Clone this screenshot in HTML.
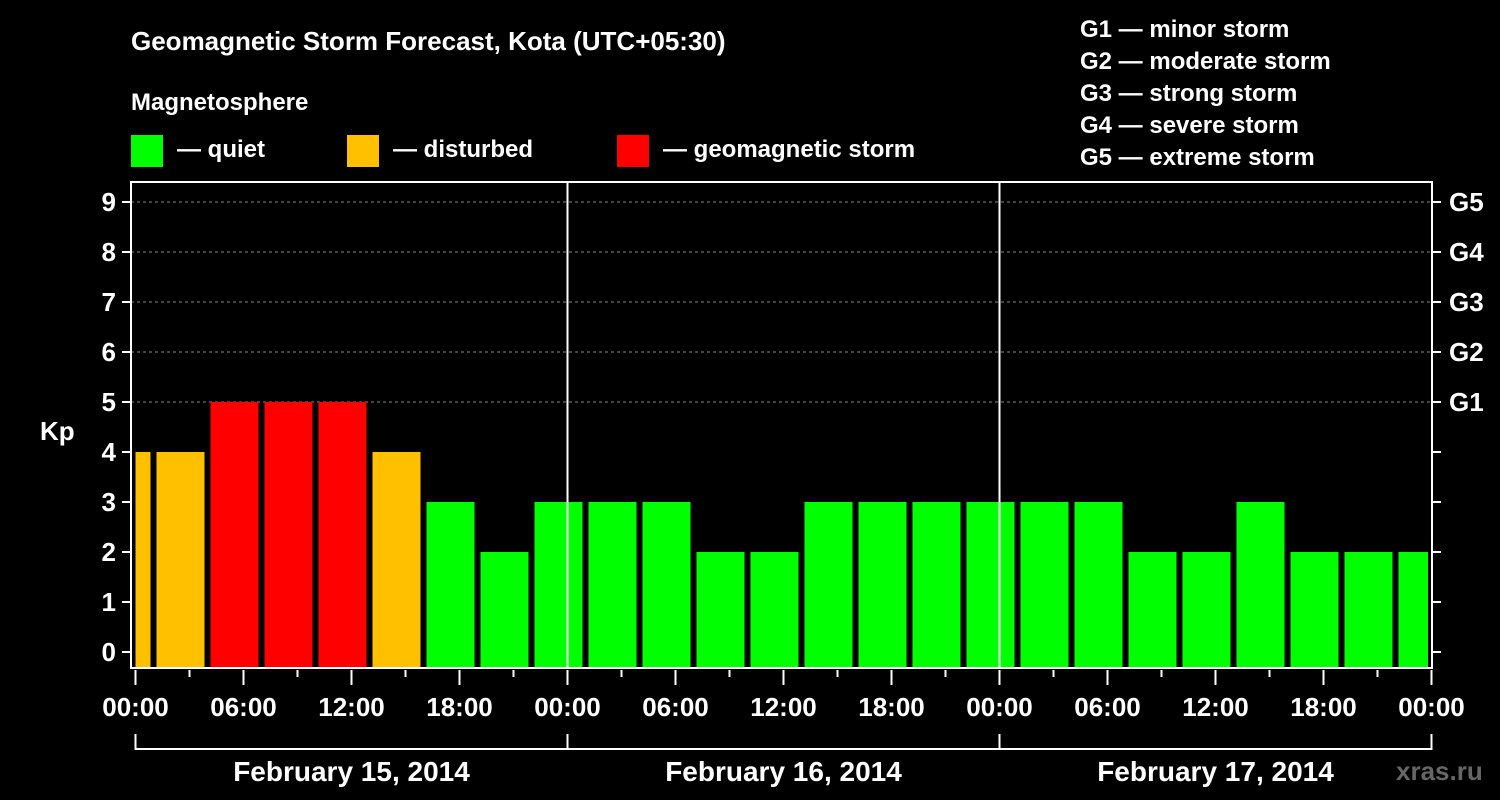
<!DOCTYPE html>
<html><head><meta charset="utf-8"><style>
body{margin:0;background:#000;}
svg{display:block;font-family:"Liberation Sans",Arial,sans-serif;font-weight:bold;}
</style></head><body>
<svg id="c" width="1500" height="800" viewBox="0 0 1500 800">
<rect width="1500" height="800" fill="#000"/>
<text x="131" y="50" fill="#fff" font-size="26">Geomagnetic Storm Forecast, Kota (UTC+05:30)</text>
<text x="131" y="110" fill="#fff" font-size="24">Magnetosphere</text>
<g><rect x="131" y="135" width="32" height="32" fill="#00ff00"/><text x="177" y="157" fill="#fff" font-size="24">— quiet</text></g>
<g><rect x="347" y="135" width="32" height="32" fill="#ffc000"/><text x="393" y="157" fill="#fff" font-size="24">— disturbed</text></g>
<g><rect x="617" y="135" width="32" height="32" fill="#ff0000"/><text x="663" y="157" fill="#fff" font-size="24">— geomagnetic storm</text></g>
<g fill="#fff" font-size="24">
<text x="1080" y="37">G1 — minor storm</text>
<text x="1080" y="69">G2 — moderate storm</text>
<text x="1080" y="101">G3 — strong storm</text>
<text x="1080" y="133">G4 — severe storm</text>
<text x="1080" y="165">G5 — extreme storm</text>
</g>
<text x="40" y="440" fill="#fff" font-size="26">Kp</text>
<text x="1396" y="780" fill="#666" font-size="26">xras.ru</text>
<g id="grid"></g><g id="bars"></g><g id="axes"></g>
</svg>
<script>
const kpValues=[4,4,5,5,5,4,3,2,3,3,3,2,2,3,3,3,3,3,3,2,2,3,2,2,2];
const yTicks=[0,1,2,3,4,5,6,7,8,9];
const gLabels=["G1","G2","G3","G4","G5"];
const gLevels=[5,6,7,8,9];
const xLabels=["00:00","06:00","12:00","18:00","00:00","06:00","12:00","18:00","00:00","06:00","12:00","18:00","00:00"];
const dayLabels=["February 15, 2014","February 16, 2014","February 17, 2014"];
const NS="http://www.w3.org/2000/svg";
const L=131,R=1432,T=182,B=668,X0=135.5,HPX=18;
const y=v=>652-50*v;
const xh=h=>X0+HPX*h;
function mk(tag,a,p){const e=document.createElementNS(NS,tag);for(const k in a)e.setAttribute(k,a[k]);p.appendChild(e);return e;}
const grid=document.getElementById('grid'),bars=document.getElementById('bars'),axes=document.getElementById('axes');
gLevels.forEach(v=>{const l=mk('line',{x1:L,x2:R,y1:y(v),y2:y(v),stroke:'#888','stroke-dasharray':'3,3','stroke-width':1},grid);

});
kpValues.forEach((v,i)=>{let x1=xh(3*i-2)+3,x2=x1+48;x1=Math.max(x1,X0);x2=Math.min(x2,R-4);
const c=v>=5?'#ff0000':(v>=4?'#ffc000':'#00ff00');
const r=mk('rect',{x:x1,y:y(v),width:x2-x1,height:B-1-y(v),fill:c},bars);

});
[1,2].forEach(d=>{const l=mk('line',{x1:xh(24*d),x2:xh(24*d),y1:T,y2:B,stroke:'#fff','stroke-width':2},axes);

});
const fr=mk('rect',{x:L,y:T,width:R-L,height:B-T,fill:'none',stroke:'#fff','stroke-width':2},axes);


yTicks.forEach(v=>{mk('line',{x1:122,x2:L,y1:y(v),y2:y(v),stroke:'#fff','stroke-width':2},axes);
mk('line',{x1:R,x2:1441,y1:y(v),y2:y(v),stroke:'#fff','stroke-width':2},axes);
const t=mk('text',{x:116,y:y(v)+9,fill:'#fff','font-size':26,'text-anchor':'end'},axes);t.textContent=v;

});
gLabels.forEach((g,i)=>{const t=mk('text',{x:1449,y:y(gLevels[i])+9,fill:'#fff','font-size':26},axes);t.textContent=g;

});
for(let h=0;h<=72;h+=3){const maj=h%6==0;mk('line',{x1:xh(h),x2:xh(h),y1:B+2,y2:B+(maj?17:9),stroke:'#fff','stroke-width':2},axes);}
xLabels.forEach((s,i)=>{const t=mk('text',{x:xh(6*i),y:716,fill:'#fff','font-size':26,'text-anchor':'middle'},axes);t.textContent=s;

});
mk('line',{x1:X0,x2:xh(72),y1:749,y2:749,stroke:'#fff','stroke-width':2},axes);
for(let d=0;d<=3;d++)mk('line',{x1:xh(24*d),x2:xh(24*d),y1:734,y2:750,stroke:'#fff','stroke-width':2},axes);
dayLabels.forEach((s,i)=>{const t=mk('text',{x:xh(24*i+12),y:781,fill:'#fff','font-size':28,'text-anchor':'middle'},axes);t.textContent=s;

});
</script>
</body></html>
